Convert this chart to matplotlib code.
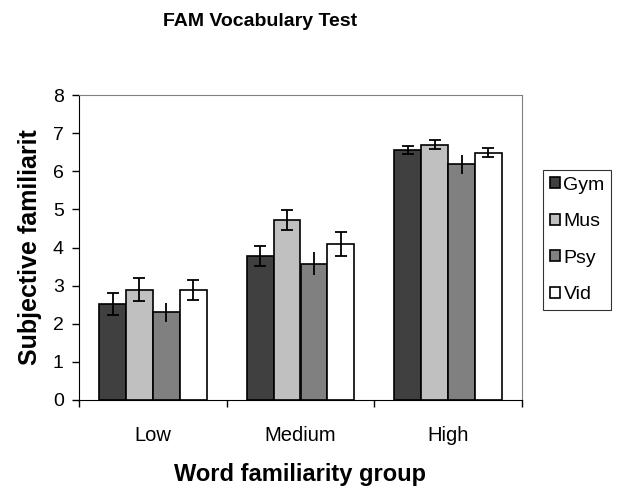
import numpy as np
import matplotlib
matplotlib.use("Agg")
import matplotlib.pyplot as plt

plt.rcParams['font.family'] = ['Liberation Sans', 'DejaVu Sans']

# Data
groups = ['Low', 'Medium', 'High']
series = ['Gym', 'Mus', 'Psy', 'Vid']
means = {
    'Gym': [2.52, 3.78, 6.55],
    'Mus': [2.89, 4.72, 6.70],
    'Psy': [2.30, 3.57, 6.18],
    'Vid': [2.89, 4.09, 6.49],
}
errors = {
    'Gym': [0.29, 0.26, 0.11],
    'Mus': [0.30, 0.27, 0.11],
    'Psy': [0.25, 0.30, 0.24],
    'Vid': [0.26, 0.31, 0.11],
}
colors = {'Gym': '#404040', 'Mus': '#c0c0c0', 'Psy': '#808080', 'Vid': '#ffffff'}
capsizes = {'Gym': 4.5, 'Mus': 4.5, 'Psy': 0, 'Vid': 4.5}

fig = plt.figure(figsize=(6.19, 4.87), dpi=100)
ax = fig.add_axes([79 / 619, 87 / 487, 443 / 619, 305 / 487])

x = np.arange(len(groups)) + 0.5
w = 1 / 5.5  # Excel gap width 150%
handles = []
for i, s in enumerate(series):
    pos = x + (i - 1.5) * w
    b = ax.bar(pos, means[s], width=w, color=colors[s], edgecolor='black',
               linewidth=1.2, label=s, zorder=2)
    handles.append(b)
    ax.errorbar(pos, means[s], yerr=errors[s], fmt='none', ecolor='black',
                elinewidth=1.3, capsize=capsizes[s], capthick=1.3, zorder=3)

ax.set_xlim(0, 3)
ax.set_ylim(0, 8)
ax.set_yticks(range(0, 9))
ax.tick_params(axis='y', direction='out', length=5, width=1, labelsize=14, pad=6)

# category boundary ticks, labels in the middle
ax.set_xticks([0, 1, 2, 3])
ax.set_xticklabels([])
ax.tick_params(axis='x', which='major', direction='out', length=5, width=1)
ax.set_xticks(x, minor=True)
ax.set_xticklabels(groups, minor=True)
ax.tick_params(axis='x', which='minor', length=0, labelsize=14.5, pad=19)

for side in ['top', 'right']:
    ax.spines[side].set_color('#808080')
for side in ['left', 'bottom']:
    ax.spines[side].set_color('#000000')

ax.set_xlabel('Word familiarity group', fontsize=17, fontweight='bold', labelpad=13)
ax.set_ylabel('Subjective familiarit', fontsize=18, fontweight='bold', labelpad=8)
fig.text(260 / 619, 1 - 21 / 487, 'FAM Vocabulary Test', fontsize=14,
         fontweight='bold', ha='center', va='center')

leg = fig.legend(handles=handles, labels=series, loc='upper left',
                 bbox_to_anchor=(543 / 619, 1 - 170 / 487), frameon=True,
                 fancybox=False, edgecolor='black', fontsize=14,
                 handlelength=0.5, handleheight=0.5, handletextpad=0.2,
                 labelspacing=1.0, borderpad=0.35, borderaxespad=0)
leg.get_frame().set_linewidth(0.8)

fig.savefig('out.png', dpi=100)
